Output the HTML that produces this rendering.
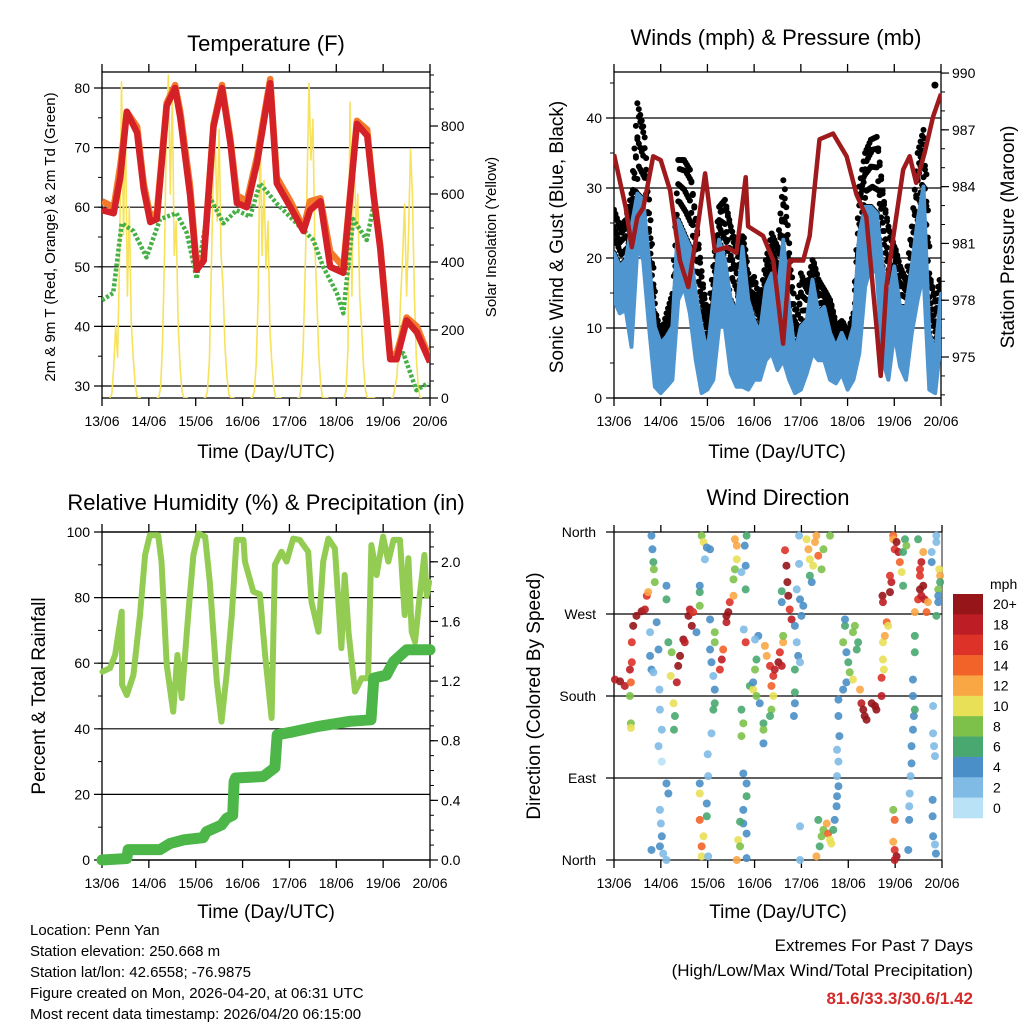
<!DOCTYPE html>
<html><head><meta charset="utf-8">
<style>
html,body{margin:0;padding:0;background:#fff;}
svg{display:block;font-family:"Liberation Sans",Arial,sans-serif;}
</style></head>
<body>
<svg id="chart" width="1024" height="1024" viewBox="0 0 1024 1024" xmlns="http://www.w3.org/2000/svg">
<g id="static">
<text x="266" y="51" font-size="22" text-anchor="middle">Temperature (F)</text>
<text x="776" y="45" font-size="22" text-anchor="middle">Winds (mph) &amp; Pressure (mb)</text>
<text x="266" y="510" font-size="22" text-anchor="middle">Relative Humidity (%) &amp; Precipitation (in)</text>
<text x="778" y="505" font-size="22" text-anchor="middle">Wind Direction</text>
<text x="266" y="458" font-size="19" text-anchor="middle">Time (Day/UTC)</text>
<text x="777" y="458" font-size="19" text-anchor="middle">Time (Day/UTC)</text>
<text x="266" y="918" font-size="19" text-anchor="middle">Time (Day/UTC)</text>
<text x="778" y="918" font-size="19" text-anchor="middle">Time (Day/UTC)</text>
<text transform="translate(55,237) rotate(-90)" font-size="15" text-anchor="middle">2m &amp; 9m T (Red, Orange) &amp; 2m Td (Green)</text>
<text transform="translate(496,237) rotate(-90)" font-size="15" text-anchor="middle">Solar Insolation (Yellow)</text>
<text transform="translate(563,237) rotate(-90)" font-size="19" text-anchor="middle">Sonic Wind &amp; Gust (Blue, Black)</text>
<text transform="translate(1014,237) rotate(-90)" font-size="19" text-anchor="middle">Station Pressure (Maroon)</text>
<text transform="translate(45,696) rotate(-90)" font-size="19" text-anchor="middle">Percent &amp; Total Rainfall</text>
<text transform="translate(540,696) rotate(-90)" font-size="19" text-anchor="middle">Direction (Colored By Speed)</text>
<g font-size="15">
<text x="30" y="935">Location: Penn Yan</text>
<text x="30" y="956">Station elevation: 250.668 m</text>
<text x="30" y="977">Station lat/lon: 42.6558; -76.9875</text>
<text x="30" y="998">Figure created on Mon, 2026-04-20, at 06:31 UTC</text>
<text x="30" y="1019">Most recent data timestamp: 2026/04/20 06:15:00</text>
</g>
<text x="973" y="951" font-size="17" text-anchor="end">Extremes For Past 7 Days</text>
<text x="973" y="976" font-size="17" text-anchor="end">(High/Low/Max Wind/Total Precipitation)</text>
<text x="973" y="1004" font-size="17" font-weight="bold" fill="#d42a2a" text-anchor="end">81.6/33.3/30.6/1.42</text>
</g>
</svg>
<script>
// ---------- data ----------
const dateLabels = ['13/06','14/06','15/06','16/06','17/06','18/06','19/06','20/06'];
const tempTicks = [30,40,50,60,70,80];
const solarTicks = [0,200,400,600,800];
const windTicks = [0,10,20,30,40];
const pressTicks = [975,978,981,984,987,990];
const rhTicks = [0,20,40,60,80,100];
const rainTicks = [0.0,0.4,0.8,1.2,1.6,2.0];
const dirTicks = [0,90,180,270,360];
const dirTickLabels = ['North','East','South','West','North'];

const tDays = [0,0.25,0.39,0.53,0.75,0.89,1.03,1.17,1.38,1.56,1.67,1.88,2.02,2.17,2.38,2.56,2.74,2.88,3.09,3.31,3.59,3.73,4.02,4.3,4.44,4.66,4.87,5.15,5.3,5.44,5.66,5.8,5.94,6.15,6.29,6.5,6.72,7.0];
const temp2m = [59.5,59,65,76,72.5,63,57.5,58,77,80,75,62,49.5,51,73.5,80,70.7,60.7,60,67.5,80.8,64,60,56,59.5,61,50,49,62,74,72,61.7,53,34.5,34.5,41,39,34];
const temp9m = [61,60,67,76,73.5,64,58.5,59,77.5,80.5,76,63.5,50,51.5,74,80.5,71.5,62,61,68.5,81.5,65,61,56.5,61,61.5,52.5,50,62.5,74.5,73,62,53.5,35,35.5,41.5,40,34.5];
const tdDays = [0,0.24,0.42,0.67,0.95,1.24,1.59,1.81,2.02,2.30,2.59,2.87,3.16,3.37,3.73,4.15,4.51,4.72,5.01,5.15,5.36,5.65,5.79,5.93,6.15,6.43,6.71,6.96];
const dewpoint = [44.4,45.6,57.3,56,51.6,58,59,55.7,48,61.7,57.3,59.5,58.4,64,60.6,57.3,54.5,50,45.6,42.2,58,54.5,60,53.3,34.5,35.5,29.3,30.5];
const solarHours = [4,5,6,7,8,9,10,11,12,13,14,15,16,17,18,19,20];
const solarDay0 = [0,10,90,210,120,420,930,480,820,300,560,220,120,40,5,0,0];
const solarDay1 = [0,0,30,160,420,800,950,600,900,420,520,220,90,20,0,0,0];
const solarDay2 = [0,0,20,110,380,650,760,520,790,420,330,150,60,10,0,0,0];
const solarDay3 = [0,0,20,100,300,780,420,640,380,520,200,100,30,0,0,0,0];
const solarDay4 = [0,0,30,140,350,620,926,700,820,450,300,130,40,0,0,0,0];
const solarDay5 = [0,20,150,870,300,780,500,600,300,200,90,20,0,0,0,0,0];
const solarDay6 = [0,0,30,60,150,300,420,570,300,480,730,600,300,120,30,0,0];

const windLow  = [14,12.1,12.6,7.3,21.6,19.7,10.2,1.6,0.7,1.6,2.6,14,15.9,12.1,5.4,0.7,1.2,2.6,10.2,10.2,3.5,1.6,1.6,1.2,2.6,2.6,5.4,6.4,4,5.4,2.6,0.7,1.2,3.5,6.4,5.4,5.4,2.6,2.1,3.5,1.2,2.6,6.4,15.9,18.8,17.8,5.4,2.6,9.3,4.5,2.6,9.3,14,17.8,1.2,0.7,8.3];
const windHigh = [20.7,18.8,19.7,24.5,29.2,28.3,19.7,10.2,7.8,8.8,10.2,25.4,23.5,21.6,14.9,10.2,6.4,14,22.6,19.7,14,12.1,21.6,14,11.1,9.3,15.9,17.8,14.9,22.6,13,6.4,10.2,11.1,16.9,12.1,13,9.3,7.3,9.3,7.3,10.2,23.5,27.3,27.3,26.4,18.8,14,18.8,13,13,18.8,25.4,30.2,9.3,6.4,14.9];
const windGust = [26.9,24.5,25.4,29.2,42.1,38.8,26.4,12.1,9,12.1,14.9,34,34,32.6,25.4,17.3,11.1,18.8,27.3,28.3,24.5,21.6,23.1,16.5,17.3,14,19.7,23.5,21.6,31.1,20.7,11,17.8,15.9,19.7,16.9,15.5,14,10.2,11,9.3,12.1,30.2,35,36.9,37.3,29.2,24.5,21.6,18.8,16.9,24.5,35,38.3,17.8,14,17.8];
const gustExtraDays = [6.87];
const gustExtraVals = [44.7];
const pDays = [0,0.25,0.38,0.5,0.63,0.84,1.0,1.2,1.41,1.59,1.77,1.95,2.16,2.41,2.62,2.82,2.87,3.19,3.41,3.62,3.76,4.05,4.19,4.4,4.69,4.98,5.19,5.4,5.62,5.71,5.83,5.97,6.19,6.33,6.47,6.65,6.83,7.0];
const pressure = [985.7,982.9,980.8,982.4,982.9,985.6,985.4,983.8,980.1,978.7,981.5,984.7,980.6,980.8,980.5,984.5,981.9,981.4,980.1,975.7,980.1,980.1,981.4,986.5,986.8,985.6,983.6,982.4,976.6,974.0,978.7,981.2,984.9,985.6,984.2,985.8,987.7,988.9];

const rhDays = [0.01,0.17,0.28,0.42,0.43,0.53,0.67,0.81,0.92,1.02,1.2,1.27,1.38,1.52,1.61,1.7,1.84,1.95,2.06,2.2,2.3,2.45,2.55,2.66,2.77,2.87,3.02,3.05,3.23,3.37,3.48,3.62,3.69,3.83,3.94,4.08,4.22,4.4,4.47,4.62,4.72,4.83,4.97,5.11,5.18,5.26,5.4,5.54,5.68,5.75,5.86,6.0,6.11,6.22,6.36,6.46,6.54,6.61,6.68,6.78,6.88,6.93,6.98];
const rhVals = [57.4,58.5,62.5,75.7,53.4,50.3,56.4,74.7,93,99,99,91,59.5,45.2,62.5,49.4,74.7,93,99.5,98.6,84.8,54.4,42.2,56.4,74.7,97.6,97.6,91,81.8,81,62.5,43.3,90,94,91,98,97.6,94,78.7,69.6,91,98,95,64.6,86.9,69.6,51.3,55.4,55.4,96,86.9,98.6,91,97.6,97.6,74.7,92,69.6,66.5,80.5,93,80.5,84.8];
const rainDays = [0,0.53,0.56,1.24,1.45,1.74,2.16,2.23,2.55,2.66,2.79,2.82,2.85,3.44,3.69,3.74,4.08,4.58,5.29,5.74,5.8,6.07,6.22,6.5,7.0];
const rainVals = [0,0.01,0.07,0.07,0.11,0.135,0.15,0.19,0.235,0.28,0.3,0.525,0.55,0.56,0.62,0.84,0.86,0.894,0.93,0.94,1.22,1.24,1.33,1.41,1.41];

const dirDays = [0.02,0.13,0.23,0.34,0.38,0.41,0.48,0.59,0.66,0.70,0.73,0.34,0.36,0.36,0.36,0.38,
0.80,0.82,0.84,0.85,0.87,0.77,0.77,0.80,0.84,0.91,0.95,0.97,0.98,1.02,0.95,1.02,1.12,1.16,0.98,1.00,1.02,0.98,0.80,1.05,1.12,1.12,1.12,
1.16,1.23,1.21,1.27,1.30,1.28,1.34,1.37,1.41,1.48,1.51,1.59,1.62,1.66,1.69,1.83,1.83,1.76,
1.87,1.91,1.98,1.94,2.05,1.83,2.05,2.15,2.15,2.05,2.08,2.12,2.15,2.15,2.12,2.08,2.00,2.01,1.83,1.83,1.98,1.98,1.83,1.91,1.87,1.87,2.01,
2.26,2.30,2.33,2.40,2.44,2.47,2.55,2.40,
2.58,2.62,2.62,2.58,2.55,2.83,2.79,2.81,2.72,2.81,2.77,2.81,2.76,2.83,2.83,2.76,2.76,2.83,2.65,2.69,2.62,2.83,2.69,
2.72,2.76,2.72,2.90,2.97,3.04,3.01,3.04,3.11,3.19,3.19,3.08,3.19,3.01,2.97,
3.22,3.26,3.33,3.40,3.36,3.43,3.51,3.54,3.61,3.58,3.40,3.36,3.33,3.65,3.68,3.70,3.72,3.75,3.79,3.58,3.61,3.58,3.90,
3.86,3.90,3.93,3.97,4.00,4.04,3.97,3.86,3.86,3.86,3.84,3.95,3.95,3.97,3.97,
4.11,4.15,4.18,4.25,4.29,4.32,4.36,4.43,4.47,4.61,4.22,4.18,4.32,4.39,4.43,4.47,4.54,4.57,4.61,4.64,4.68,4.71,4.75,4.36,
4.79,4.79,4.81,4.76,4.79,4.76,4.79,4.76,4.96,4.93,4.89,5.00,5.03,5.10,5.14,4.96,4.89,5.10,5.18,5.21,4.93,
5.25,5.28,5.32,5.35,5.39,5.50,5.57,5.60,5.71,5.71,
5.74,5.78,5.82,5.85,5.74,5.76,5.73,5.74,5.89,5.92,5.89,5.96,5.99,5.96,6.03,6.07,6.10,6.14,6.17,6.21,6.24,6.17,5.96,5.99,5.96,5.99,6.03,5.99,
6.38,6.38,6.40,6.38,6.35,6.35,6.33,6.31,6.30,6.30,6.28,6.42,6.42,6.42,
6.42,6.49,6.53,6.56,6.60,6.63,6.70,6.67,6.53,6.56,6.60,6.49,6.53,
6.81,6.81,6.83,6.85,6.80,6.80,6.81,6.85,6.87,6.88,6.88,6.78,6.78,6.94,6.96,6.92,6.92,6.88,6.96,6.92];
const dirDeg = [198,196,191,209,239,257,268,273,275,290,294,180,150,145,195,217,
356,341,327,319,305,250,224,209,206,261,231,187,165,143,125,108,84,73,55,40,26,15,11,7,0,301,286,
239,228,202,172,158,143,195,213,224,242,239,268,275,257,272,294,279,250,
356,349,343,330,341,301,264,250,239,231,217,202,187,172,165,139,116,92,84,73,62,48,44,26,15,4,4,
209,220,231,261,272,283,290,268,
352,345,330,319,308,356,345,323,316,297,253,239,95,84,70,55,40,29,22,15,0,2,42,
165,150,136,191,187,180,209,220,172,150,128,246,143,242,195,
235,224,213,202,191,209,217,228,239,213,180,165,158,340,323,305,290,275,264,295,246,283,297,
257,239,224,217,268,279,286,209,184,172,158,356,325,0,37,
352,341,330,323,349,356,334,319,341,356,305,312,4,15,26,33,40,29,22,18,33,44,59,44,
176,158,136,121,108,92,81,70,228,257,239,217,206,250,257,195,187,198,231,239,264,
187,172,165,158,154,172,169,165,180,200,
239,246,261,257,220,209,290,283,294,305,312,356,341,352,349,338,327,316,338,352,345,301,55,44,20,11,4,0,
198,180,158,143,125,106,92,73,59,44,11,228,246,165,
272,286,297,290,301,286,283,272,312,327,338,352,319,
169,139,125,114,66,48,26,17,7,356,349,338,327,319,312,297,283,268,305,290];
const dirSpd = [18,19,17,18,15,20,20,20,18,16,12,8,8,10,14,16,
4,4,6,8,8,2,4,4,2,4,4,1,1,2,1,0,4,4,2,1,4,4,4,2,2,4,6,
6,8,10,10,6,6,18,20,20,20,18,20,18,20,16,6,8,4,
8,10,4,2,4,4,4,8,8,4,4,2,4,6,6,2,2,2,4,10,4,6,14,10,14,10,2,
16,18,14,18,20,16,12,20,
12,12,10,8,8,6,4,4,2,6,2,16,4,4,6,4,4,4,10,8,12,4,6,
6,8,8,6,10,8,8,6,4,6,4,4,8,2,4,
12,12,16,16,14,18,20,16,12,18,10,8,6,16,20,20,20,16,18,6,8,4,2,
4,2,4,2,4,4,4,6,6,4,4,2,2,2,1,
10,12,10,10,12,12,14,8,8,8,4,6,12,6,8,8,12,14,10,10,6,4,4,6,
4,4,4,2,2,2,4,4,4,6,8,6,8,8,8,4,4,10,6,6,4,
12,18,20,20,20,20,20,20,18,16,
10,12,14,10,10,10,20,18,20,18,16,14,16,12,20,18,14,10,6,6,8,6,8,14,12,16,20,18,
4,4,4,4,4,4,2,2,2,4,4,6,6,6,
12,16,20,18,20,18,12,14,16,18,12,6,16,
2,2,2,2,4,4,4,2,4,2,2,2,4,10,12,8,4,6,6,4];
const speedBins = ['0','2','4','6','8','10','12','14','16','18','20+'];
const speedColors = ['#b9e2f7','#80bbe5','#4a8fc7','#48a870','#7dc14b','#e8e057','#f9a745','#f26329','#dd3228','#bd1e25','#961519'];

// ---------- helpers ----------
const NS = 'http://www.w3.org/2000/svg';
const svg = document.getElementById('chart');
function mk(tag, attrs, parent){
  const e = document.createElementNS(NS, tag);
  for (const k in attrs) e.setAttribute(k, attrs[k]);
  (parent || svg).appendChild(e);
  return e;
}
function linePath(xs, ys, fx, fy){
  let d = '';
  for (let i = 0; i < Math.min(xs.length, ys.length); i++) d += (i ? 'L' : 'M') + fx(xs[i]).toFixed(1) + ' ' + fy(ys[i]).toFixed(1);
  return d;
}
function makeX(x0, x1){ return d => x0 + d * (x1 - x0) / 7; }

function frame(name, x0, x1, y0, y1, fx){
  const g = mk('g', {});
  
  
  const box = mk('rect', {x:x0, y:y0, width:x1-x0, height:y1-y0, fill:'none', stroke:'#000', 'stroke-width':1.3}, g);
  
  
  for (let i = 0; i < dateLabels.length; i++){
    const x = fx(i);
    const tb = mk('line', {x1:x, x2:x, y1:y1, y2:y1+8, stroke:'#000', 'stroke-width':1.3}, g);
    
    
    const tt = mk('line', {x1:x, x2:x, y1:y0, y2:y0-8, stroke:'#000', 'stroke-width':1.3}, g);
    
    
    const lb = mk('text', {x:x, y:y1+28, 'font-size':14, 'text-anchor':'middle'}, g);
    lb.textContent = dateLabels[i];
    
    
  }
  return g;
}
function leftAxis(name, g, ticks, labels, fy, x0, x1, minorStep, minorFrom, minorTo, grid){
  for (let v = minorFrom; v <= minorTo + 1e-9; v += minorStep){
    const y = fy(v);
    const m = mk('line', {x1:x0-4, x2:x0, y1:y, y2:y, stroke:'#000', 'stroke-width':1}, g);
    
    
  }
  for (let i = 0; i < ticks.length; i++){
    const y = fy(ticks[i]);
    const l = mk('line', {x1:x0-8, x2: grid ? x1 : x0, y1:y, y2:y, stroke:'#000', 'stroke-width':1.2}, g);
    
    
    const t = mk('text', {x:x0-12, y:y+5, 'font-size':14, 'text-anchor':'end'}, g);
    t.textContent = labels[i];
    
    
  }
}
function rightAxis(name, g, ticks, labels, fy, x1, minorStep, minorFrom, minorTo){
  for (let v = minorFrom; v <= minorTo + 1e-9; v += minorStep){
    const y = fy(v);
    const m = mk('line', {x1:x1, x2:x1+4, y1:y, y2:y, stroke:'#000', 'stroke-width':1}, g);
    
    
  }
  for (let i = 0; i < ticks.length; i++){
    const y = fy(ticks[i]);
    const l = mk('line', {x1:x1, x2:x1+8, y1:y, y2:y, stroke:'#000', 'stroke-width':1.2}, g);
    
    
    const t = mk('text', {x:x1+11, y:y+5, 'font-size':14, 'text-anchor':'start'}, g);
    t.textContent = labels[i];
    
    
  }
}

// ---------- Panel 1: temperature ----------
(function(){
  const x0=102, x1=430, y0=72, y1=398;
  const fx = makeX(x0, x1);
  const fy = v => 386 - (v - 30) * 5.96;
  const fs = v => 398 - v * 0.34;
  const g = frame('temperature', x0, x1, y0, y1, fx);
  leftAxis('temperature', g, tempTicks, tempTicks.map(String), fy, x0, x1, 5, 30, 80, true);
  rightAxis('solar', g, solarTicks, solarTicks.map(String), fs, x1, 50, 0, 950);
  const clip = mk('clipPath', {id:'c1'}); mk('rect', {x:x0, y:y0, width:x1-x0, height:y1-y0}, clip);
  const pg = mk('g', {'clip-path':'url(#c1)'});
  
  
  const solarDaysAll = [solarDay0, solarDay1, solarDay2, solarDay3, solarDay4, solarDay5, solarDay6];
  for (let d = 0; d < solarDaysAll.length; d++){
    const p = mk('path', {d: linePath(solarHours.map(h => d + h/24), solarDaysAll[d], fx, fs), fill:'none', stroke:'#f7e25c', 'stroke-width':1.6, 'stroke-linejoin':'round'}, pg);
    
    
  }
  const td = mk('path', {d: linePath(tdDays, dewpoint, fx, fy), fill:'none', stroke:'#46b046', 'stroke-width':4.5, 'stroke-dasharray':'3 2', 'stroke-linejoin':'round'}, pg);
  
  
  const t9 = mk('path', {d: linePath(tDays, temp9m, fx, fy), fill:'none', stroke:'#f47a2b', 'stroke-width':6.5, 'stroke-linejoin':'round'}, pg);
  
  
  const t2 = mk('path', {d: linePath(tDays, temp2m, fx, fy), fill:'none', stroke:'#d42127', 'stroke-width':6.5, 'stroke-linejoin':'round'}, pg);
  
  
})();

// ---------- Panel 2: winds & pressure ----------
(function(){
  const x0=614, x1=941, y0=72, y1=398;
  const fx = makeX(x0, x1);
  const fy = v => 398 - v * 7;
  const fp = p => 357 - (p - 975) * 18.93;
  const g = frame('winds', x0, x1, y0, y1, fx);
  leftAxis('winds', g, windTicks, windTicks.map(String), fy, x0, x1, 5, 0, 45, true);
  rightAxis('pressure', g, pressTicks, pressTicks.map(String), fp, x1, 1, 973, 990);
  const clip = mk('clipPath', {id:'c2'}); mk('rect', {x:x0, y:y0, width:x1-x0, height:y1-y0}, clip);
  const pg = mk('g', {'clip-path':'url(#c2)'});
  
  
  const n = windGust.length;
  const slot = i => i * 7 / (n - 1);
  const sub = 4, fracs = [0.0, 0.3, 0.6, 0.85, 1.0];
  for (let i = 0; i < n - 1; i++){
    for (let s = 0; s < sub; s++){
      const a = s / sub;
      const t = slot(i) + a * (slot(i+1) - slot(i));
      const hi = windHigh[i] + a * (windHigh[i+1] - windHigh[i]);
      const gu = windGust[i] + a * (windGust[i+1] - windGust[i]);
      for (let f = 0; f < fracs.length; f++){
        const c = mk('circle', {cx: fx(t) + (f % 2) * 1.5, cy: fy(hi + fracs[f] * (gu - hi)), r:3, fill:'#000'}, pg);
        
        
      }
    }
  }
  for (let i = 0; i < gustExtraDays.length; i++){
    const c = mk('circle', {cx: fx(gustExtraDays[i]), cy: fy(gustExtraVals[i]), r:3.5, fill:'#000'}, pg);
    
    
  }
  let bu = '', bl = '';
  for (let i = 0; i < n; i++) bu += (i ? 'L' : 'M') + fx(slot(i)).toFixed(1) + ' ' + fy(windHigh[i]).toFixed(1);
  for (let i = n - 1; i >= 0; i--) bl += 'L' + fx(slot(i)).toFixed(1) + ' ' + fy(windLow[i]).toFixed(1);
  const wb = mk('path', {d: bu + bl + 'Z', fill:'#4f96d1', stroke:'#4f96d1', 'stroke-width':4, 'stroke-linejoin':'round'}, pg);
  
  
  let zz = '';
  for (let i = 0; i < n - 1; i++){
    for (let s = 0; s < sub; s++){
      const a = s / sub;
      const t = slot(i) + a * (slot(i+1) - slot(i));
      const v = (s % 2 === 0) ? windHigh[i] + a * (windHigh[i+1] - windHigh[i]) : windLow[i] + a * (windLow[i+1] - windLow[i]);
      zz += (zz ? 'L' : 'M') + fx(t).toFixed(1) + ' ' + fy(v).toFixed(1);
    }
  }
  const wz = mk('path', {d: zz, fill:'none', stroke:'#4f96d1', 'stroke-width':3, 'stroke-linejoin':'round'}, pg);
  
  
  const pr = mk('path', {d: linePath(pDays, pressure, fx, fp), fill:'none', stroke:'#9e1a1c', 'stroke-width':4.5, 'stroke-linejoin':'round'}, pg);
  
  
})();

// ---------- Panel 3: humidity & precipitation ----------
(function(){
  const x0=102, x1=430, y0=532, y1=860;
  const fx = makeX(x0, x1);
  const fy = v => 860 - v * 3.28;
  const fr = v => 860 - v * 149.1;
  const g = frame('humidity', x0, x1, y0, y1, fx);
  leftAxis('humidity', g, rhTicks, rhTicks.map(String), fy, x0, x1, 10, 0, 100, true);
  rightAxis('rainfall', g, rainTicks, rainTicks.map(v => v.toFixed(1)), fr, x1, 0.1, 0, 2.2);
  const pg = mk('g', {});
  
  
  const rh = mk('path', {d: linePath(rhDays, rhVals, fx, fy), fill:'none', stroke:'#93cc52', 'stroke-width':6, 'stroke-linejoin':'round', 'stroke-linecap':'round'}, pg);
  
  
  const rn = mk('path', {d: linePath(rainDays, rainVals, fx, fr), fill:'none', stroke:'#4cb648', 'stroke-width':11, 'stroke-linejoin':'round', 'stroke-linecap':'round'}, pg);
  
  
})();

// ---------- Panel 4: wind direction ----------
(function(){
  const x0=614, x1=942, y0=532, y1=860;
  const fx = makeX(x0, x1);
  const fy = d => 860 - d * 328 / 360;
  const g = mk('g', {});
  
  
  const lf = mk('line', {x1:x0, x2:x0, y1:y0, y2:y1, stroke:'#000', 'stroke-width':1.3}, g);
  
  
  const rt = mk('line', {x1:x1, x2:x1, y1:y0, y2:y1, stroke:'#666', 'stroke-width':1.5}, g);
  
  
  for (let i = 0; i < dirTicks.length; i++){
    const y = fy(dirTicks[i]);
    const l = mk('line', {x1:x0-8, x2:x1, y1:y, y2:y, stroke:'#000', 'stroke-width':1.2}, g);
    
    
    const t = mk('text', {x:x0-18, y:y+5, 'font-size':14, 'text-anchor':'end'}, g);
    t.textContent = dirTickLabels[i];
    
    
  }
  for (let i = 0; i < dateLabels.length; i++){
    const x = fx(i);
    const tb = mk('line', {x1:x, x2:x, y1:y1, y2:y1+8, stroke:'#000', 'stroke-width':1.3}, g);
    
    
    const tt = mk('line', {x1:x, x2:x, y1:y0, y2:y0-7, stroke:'#000', 'stroke-width':1.3}, g);
    
    
    const lb = mk('text', {x:x, y:y1+28, 'font-size':14, 'text-anchor':'middle'}, g);
    lb.textContent = dateLabels[i];
    
    
  }
  const pg = mk('g', {});
  
  
  const n = Math.min(dirDays.length, dirDeg.length, dirSpd.length);
  for (let i = 0; i < n; i++){
    const bin = Math.min(10, Math.max(0, Math.round(dirSpd[i] / 2)));
    const c = mk('circle', {cx: fx(dirDays[i]), cy: fy(dirDeg[i]), r:4, fill: speedColors[bin], 'fill-opacity':0.9}, pg);
    
    
  }
  // colour bar
  const cb = mk('g', {});
  
  
  const unit = mk('text', {x:990, y:589, 'font-size':14}, cb);
  unit.textContent = 'mph';
  
  
  const bh = 224 / speedBins.length;
  for (let i = 0; i < speedBins.length; i++){
    const k = speedBins.length - 1 - i;
    const r = mk('rect', {x:953, y:594 + i*bh, width:30, height:bh+0.3, fill: speedColors[k]}, cb);
    
    
    const t = mk('text', {x:993, y:594 + i*bh + bh/2 + 5, 'font-size':14}, cb);
    t.textContent = speedBins[k];
    
    
  }
})();
</script>
</body></html>
